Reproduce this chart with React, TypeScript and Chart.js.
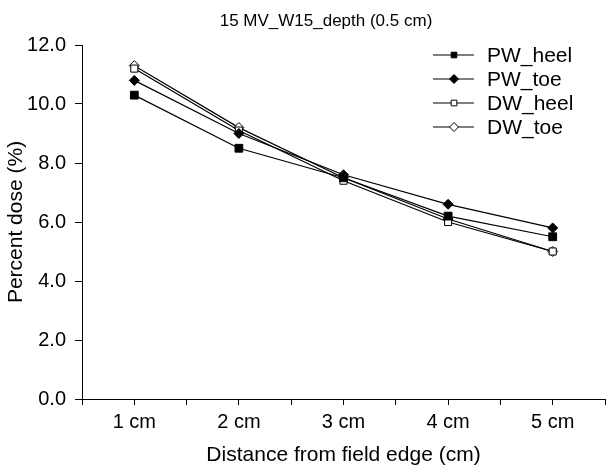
import React, { useEffect, useRef } from "react";
import { Chart, registerables } from "chart.js";

Chart.register(...registerables);

const title = "15 MV_W15_depth (0.5 cm)";
const categories = ["1 cm", "2 cm", "3 cm", "4 cm", "5 cm"];
const seriesNames = ["PW_heel", "PW_toe", "DW_heel", "DW_toe"];
const pwHeel = [10.3, 8.5, 7.5, 6.2, 5.5];
const pwToe = [10.8, 9.0, 7.6, 6.6, 5.8];
const dwHeel = [11.2, 9.1, 7.4, 6.0, 5.0];
const dwToe = [11.3, 9.2, 7.5, 6.1, 5.0];
const yTicks = [0, 2, 4, 6, 8, 10, 12];
const xTitle = "Distance from field edge (cm)";
const yTitle = "Percent dose (%)";

const FONT = "'Liberation Sans', Arial, sans-serif";

const styles = [
  { pointStyle: "rect", fill: "#000000", radius: 5.5, legendRadius: 4 },
  { pointStyle: "rectRot", fill: "#000000", radius: 5, legendRadius: 4.5 },
  { pointStyle: "rect", fill: "#ffffff", radius: 5, legendRadius: 4 },
  { pointStyle: "rectRot", fill: "#ffffff", radius: 5, legendRadius: 4.5 },
];

function marker(ctx: CanvasRenderingContext2D, style: string, x: number, y: number, r: number, fill: string) {
  ctx.save();
  ctx.beginPath();
  if (style === "rect") {
    const s = r * Math.SQRT1_2;
    ctx.rect(x - s, y - s, 2 * s, 2 * s);
  } else {
    ctx.moveTo(x, y - r);
    ctx.lineTo(x + r, y);
    ctx.lineTo(x, y + r);
    ctx.lineTo(x - r, y);
    ctx.closePath();
  }
  ctx.fillStyle = fill;
  ctx.strokeStyle = "#000000";
  ctx.lineWidth = 1;
  ctx.fill();
  ctx.stroke();
  ctx.restore();
}

const overlayPlugin = {
  id: "overlay",
  afterDraw(chart: any) {
    const ctx: CanvasRenderingContext2D = chart.ctx;
    ctx.save();
    ctx.fillStyle = "#000000";
    ctx.font = `17px ${FONT}`;
    ctx.textAlign = "center";
    ctx.textBaseline = "middle";
    ctx.fillText(title, 326, 21);

    chart.data.datasets.forEach((ds: any, i: number) => {
      const y = 55 + i * 24;
      ctx.beginPath();
      ctx.strokeStyle = "#000000";
      ctx.lineWidth = 1;
      ctx.moveTo(433, y);
      ctx.lineTo(474, y);
      ctx.stroke();
      marker(ctx, styles[i].pointStyle, 454, y, styles[i].legendRadius, styles[i].fill);
      ctx.fillStyle = "#000000";
      ctx.font = `21px ${FONT}`;
      ctx.textAlign = "left";
      ctx.textBaseline = "middle";
      ctx.fillText(ds.label, 487, y + 1);
    });
    ctx.restore();
  },
};

export default function App() {
  const ref = useRef<HTMLCanvasElement>(null);

  useEffect(() => {
    if (!ref.current) return;
    const all = [pwHeel, pwToe, dwHeel, dwToe];
    const chart = new Chart(ref.current, {
      type: "line",
      data: {
        datasets: all.map((vals, i) => ({
          label: seriesNames[i],
          data: vals.map((v, j) => ({ x: j + 1, y: v })),
          borderColor: "#000000",
          borderWidth: 1.2,
          backgroundColor: styles[i].fill,
          pointBackgroundColor: styles[i].fill,
          pointBorderColor: "#000000",
          pointBorderWidth: 1,
          pointStyle: styles[i].pointStyle as any,
          pointRadius: styles[i].radius,
          tension: 0,
          fill: false,
        })),
      },
      options: {
        animation: false,
        responsive: false,
        maintainAspectRatio: false,
        layout: { autoPadding: false, padding: { top: 45, right: 1, left: 0, bottom: 0 } },
        plugins: {
          legend: { display: false },
          title: { display: false },
          tooltip: { enabled: false },
        },
        scales: {
          x: {
            type: "linear",
            min: 0.5,
            max: 5.5,
            afterFit: (s: any) => {
              s.height = 70;
              s.paddingLeft = 0;
              s.paddingRight = 0;
            },
            ticks: {
              stepSize: 0.5,
              autoSkip: false,
              maxRotation: 0,
              padding: 5,
              color: "#000000",
              font: { family: FONT, size: 20 },
              callback: (v: any) => {
                const n = Number(v);
                return Number.isInteger(n) ? categories[n - 1] : "";
              },
            },
            grid: {
              drawOnChartArea: false,
              drawTicks: true,
              tickLength: 6,
              color: "#000000",
              lineWidth: 1,
            },
            border: { display: true, color: "#000000", width: 1 },
            title: {
              display: true,
              text: xTitle,
              color: "#000000",
              font: { family: FONT, size: 21 },
              padding: { top: 0, bottom: 1 },
            },
          },
          y: {
            type: "linear",
            min: 0,
            max: 12,
            afterFit: (s: any) => {
              s.width = 82;
              s.paddingTop = 0;
              s.paddingBottom = 0;
            },
            afterBuildTicks: (s: any) => {
              s.ticks = yTicks.map((v) => ({ value: v }));
            },
            ticks: {
              padding: 9,
              color: "#000000",
              font: { family: FONT, size: 20 },
              callback: (v: any) => Number(v).toFixed(1),
            },
            grid: {
              drawOnChartArea: false,
              drawTicks: true,
              tickLength: 7,
              color: "#000000",
              lineWidth: 1,
            },
            border: { display: true, color: "#000000", width: 1 },
            title: {
              display: true,
              text: yTitle,
              color: "#000000",
              font: { family: FONT, size: 21 },
              padding: { top: 4, bottom: 0 },
            },
          },
        },
      },
      plugins: [overlayPlugin],
    });
    return () => chart.destroy();
  }, []);

  return (
    <div style={{ position: "absolute", left: 0, top: 0, width: 606, height: 469, background: "#ffffff" }}>
      <canvas ref={ref} width={606} height={469} style={{ width: 606, height: 469 }} />
    </div>
  );
}
